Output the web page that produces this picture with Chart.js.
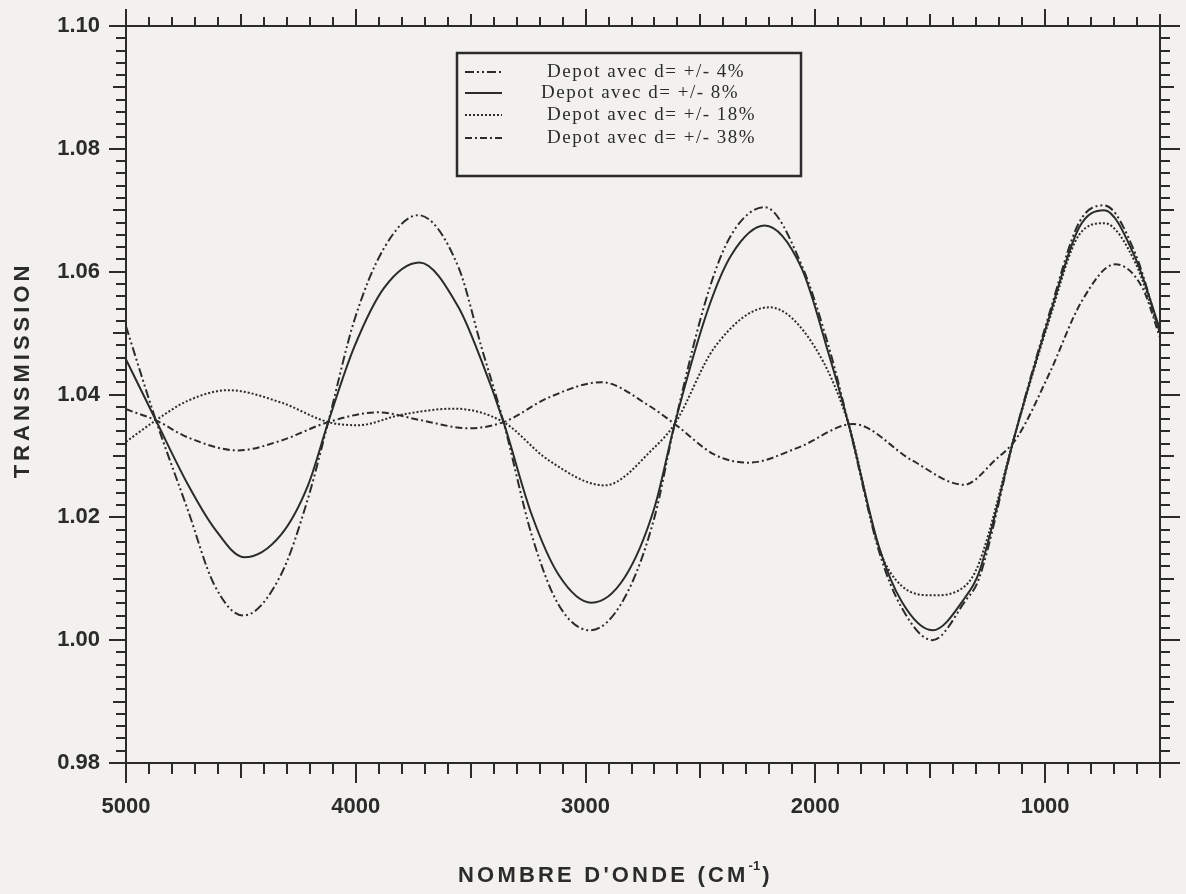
<!DOCTYPE html>
<html lang="fr">
<head>
<meta charset="UTF-8">
<title>Transmission - Depot avec inhomogeneite d'epaisseur</title>
<script src="https://cdn.jsdelivr.net/npm/chart.js"></script>
<style>
  html, body { margin: 0; padding: 0; background: #f2f1ee; }
  canvas { display: block; }
</style>
</head>
<body>
<canvas id="transChart" width="1186" height="894"></canvas>
<script>
// valeurs : nombre d'onde (cm-1) -> transmission
const wn4 = [5000, 4870, 4730, 4617, 4490, 4325, 4207, 4120, 4007, 3876, 3728, 3553, 3453, 3357, 3235, 3118, 2980, 2830, 2700, 2612, 2464, 2364, 2220, 2059, 1941, 1854, 1723, 1623, 1490, 1349, 1288, 1131, 983, 852, 743, 608, 500];
const trans4 = [1.0511, 1.0358, 1.0211, 1.0091, 1.0040, 1.0107, 1.0232, 1.0355, 1.0520, 1.0639, 1.0692, 1.0607, 1.0477, 1.0355, 1.0172, 1.0058, 1.0016, 1.0069, 1.0200, 1.0352, 1.0569, 1.0661, 1.0705, 1.0610, 1.0477, 1.0350, 1.0145, 1.0052, 1.0000, 1.0063, 1.0100, 1.0335, 1.0530, 1.0680, 1.0708, 1.0630, 1.0500];

const wn8 = [5000, 4870, 4730, 4617, 4486, 4325, 4207, 4120, 4007, 3876, 3723, 3553, 3453, 3357, 3235, 3118, 2974, 2830, 2700, 2612, 2464, 2364, 2220, 2059, 1941, 1854, 1723, 1623, 1490, 1349, 1288, 1131, 983, 852, 743, 608, 500];
const trans8 = [1.0457, 1.0358, 1.0253, 1.0183, 1.0135, 1.0172, 1.0253, 1.0355, 1.0477, 1.0574, 1.0615, 1.0542, 1.0455, 1.0355, 1.0205, 1.0107, 1.0061, 1.0102, 1.0216, 1.0352, 1.0542, 1.0628, 1.0675, 1.0605, 1.0465, 1.0350, 1.0152, 1.0062, 1.0016, 1.0069, 1.0110, 1.0335, 1.0525, 1.0672, 1.0700, 1.0623, 1.0506];

const wn18 = [5000, 4870, 4730, 4555, 4325, 4120, 3990, 3802, 3571, 3357, 3161, 2917, 2700, 2612, 2438, 2200, 2002, 1854, 1723, 1623, 1490, 1349, 1288, 1131, 983, 852, 743, 608, 500];
const trans18 = [1.0323, 1.0358, 1.0390, 1.0407, 1.0387, 1.0355, 1.0350, 1.0367, 1.0377, 1.0355, 1.0293, 1.0252, 1.0314, 1.0352, 1.0477, 1.0542, 1.0477, 1.0350, 1.0150, 1.0088, 1.0073, 1.0088, 1.0125, 1.0335, 1.0520, 1.0660, 1.0679, 1.0615, 1.0500];

const wn38 = [5000, 4870, 4730, 4512, 4325, 4120, 3902, 3715, 3510, 3357, 3161, 2930, 2725, 2612, 2438, 2290, 2072, 1835, 1580, 1353, 1218, 1122, 983, 839, 695, 577, 500];
const trans38 = [1.0376, 1.0358, 1.0330, 1.0309, 1.0325, 1.0355, 1.0371, 1.0358, 1.0345, 1.0355, 1.0395, 1.0420, 1.0382, 1.0352, 1.0302, 1.0289, 1.0314, 1.0352, 1.0293, 1.0253, 1.0293, 1.0330, 1.0433, 1.0553, 1.0612, 1.0574, 1.0493];

const seriesLabels = ["Depot avec d= +/- 4%", "Depot avec d= +/- 8%", "Depot avec d= +/- 18%", "Depot avec d= +/- 38%"];
const xTickValues = [5000, 4000, 3000, 2000, 1000];
const yTickValues = [0.98, 1.00, 1.02, 1.04, 1.06, 1.08, 1.10];

const ink = "#2b2b2b";
const dashes = [[9, 3, 2, 3, 2, 3], [], [2, 2], [7, 3, 2, 3]];

function pts(xs, ys) {
    return xs.map((v, i) => ({ x: v, y: ys[i] }));
}

// cadre, graduations, legende et titres des axes
const decor = {
    id: "decor",
    afterDatasetsDraw(chart) {
        const { ctx, chartArea: a, scales: { x, y } } = chart;
        ctx.save();
        ctx.strokeStyle = ink;
        ctx.lineWidth = 2;
        ctx.setLineDash([]);
        ctx.strokeRect(a.left, a.top, a.right - a.left, a.bottom - a.top);

        ctx.beginPath();
        for (let i = 0; i <= 45; i++) {
            const v = 500 + i * 100;
            const px = Math.round(x.getPixelForValue(v));
            const big = v % 1000 === 0, mid = v % 500 === 0;
            const down = big ? 20 : mid ? 15 : 11;
            const up = big ? 17 : mid ? 12 : 9;
            ctx.moveTo(px, a.bottom); ctx.lineTo(px, a.bottom + down);
            ctx.moveTo(px, a.top); ctx.lineTo(px, a.top - up);
        }
        for (let i = 0; i <= 60; i++) {
            const py = Math.round(y.getPixelForValue(0.98 + i * 0.002));
            const big = i % 10 === 0, mid = i % 5 === 0;
            const left = big ? 17 : mid ? 13 : 10;
            const right = big ? 20 : mid ? 14 : 10;
            ctx.moveTo(a.left, py); ctx.lineTo(a.left - left, py);
            ctx.moveTo(a.right, py); ctx.lineTo(a.right + right, py);
        }
        ctx.stroke();

        // legende
        ctx.lineWidth = 2.5;
        ctx.strokeRect(457, 53, 344, 123);
        const rows = [72, 93, 115, 138];
        const textX = [547, 541, 547, 547];
        ctx.font = "19px 'Liberation Serif', serif";
        ctx.letterSpacing = "1.5px";
        ctx.fillStyle = ink;
        ctx.textBaseline = "middle";
        ctx.textAlign = "left";
        chart.data.datasets.forEach((ds, i) => {
            ctx.lineWidth = 2;
            ctx.setLineDash(ds.borderDash || []);
            ctx.beginPath();
            ctx.moveTo(465, rows[i]);
            ctx.lineTo(502, rows[i]);
            ctx.stroke();
            ctx.setLineDash([]);
            ctx.fillText(seriesLabels[i], textX[i], rows[i]);
        });

        // titre axe X avec exposant
        ctx.font = "bold 22px 'Liberation Sans', Arial, sans-serif";
        ctx.letterSpacing = "3.2px";
        ctx.textBaseline = "alphabetic";
        let tx = 458;
        const part1 = "NOMBRE D'ONDE (CM";
        ctx.fillText(part1, tx, 882);
        tx += ctx.measureText(part1).width;
        ctx.font = "bold 13px 'Liberation Sans', Arial, sans-serif";
        ctx.letterSpacing = "0px";
        ctx.fillText("-1", tx, 870);
        tx += ctx.measureText("-1").width + 2;
        ctx.font = "bold 22px 'Liberation Sans', Arial, sans-serif";
        ctx.fillText(")", tx, 882);

        // titre axe Y
        ctx.save();
        ctx.translate(29, 372);
        ctx.rotate(-Math.PI / 2);
        ctx.font = "bold 22px 'Liberation Sans', Arial, sans-serif";
        ctx.letterSpacing = "4px";
        ctx.textAlign = "center";
        ctx.fillText("TRANSMISSION", 2, 0);
        ctx.restore();

        ctx.restore();
    }
};

const tickFont = { family: "'Liberation Sans', Arial, sans-serif", size: 22, weight: "bold" };

new Chart(document.getElementById("transChart"), {
    type: "line",
    data: {
        datasets: [
            { label: seriesLabels[0], data: pts(wn4, trans4), borderDash: dashes[0] },
            { label: seriesLabels[1], data: pts(wn8, trans8), borderDash: dashes[1] },
            { label: seriesLabels[2], data: pts(wn18, trans18), borderDash: dashes[2] },
            { label: seriesLabels[3], data: pts(wn38, trans38), borderDash: dashes[3] }
        ].map(ds => Object.assign(ds, { borderColor: ink, borderWidth: 2, fill: false }))
    },
    options: {
        responsive: false,
        animation: false,
        layout: { padding: { top: 26, right: 26, left: 0, bottom: 0 } },
        plugins: { legend: { display: false }, tooltip: { enabled: false } },
        elements: {
            point: { radius: 0 },
            line: { cubicInterpolationMode: "monotone" }
        },
        scales: {
            x: {
                type: "linear",
                reverse: true,
                min: 500,
                max: 5000,
                afterFit: s => { s.height = 131; s.paddingLeft = 0; s.paddingRight = 0; },
                afterBuildTicks: s => { s.ticks = xTickValues.map(v => ({ value: v })); },
                grid: { display: false, drawTicks: false },
                border: { display: false },
                ticks: { padding: 31, font: tickFont, color: ink, maxRotation: 0, autoSkip: false, callback: v => String(v) }
            },
            y: {
                min: 0.98,
                max: 1.10,
                afterFit: s => { s.width = 126; s.paddingTop = 0; s.paddingBottom = 0; },
                afterBuildTicks: s => { s.ticks = yTickValues.map(v => ({ value: v })); },
                grid: { display: false, drawTicks: false },
                border: { display: false },
                ticks: { padding: 26, font: tickFont, color: ink, autoSkip: false, callback: v => v.toFixed(2) }
            }
        }
    },
    plugins: [decor]
});
</script>
</body>
</html>
